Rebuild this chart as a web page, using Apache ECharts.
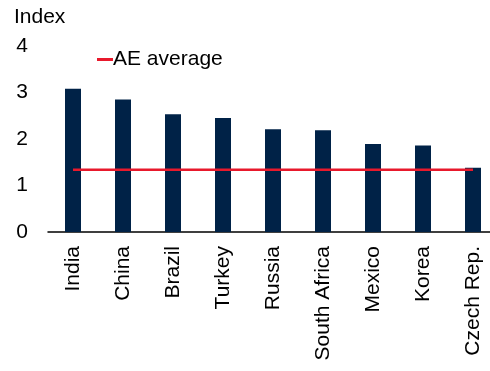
<!DOCTYPE html>
<html>
<head>
<meta charset="utf-8">
<script src="https://cdn.jsdelivr.net/npm/echarts@6/dist/echarts.min.js"></script>
<style>html,body{margin:0;padding:0;background:#fff}#c{width:490px;height:371px}</style>
</head>
<body>
<div id="c"></div>
<script>
var categories = ['India','China','Brazil','Turkey','Russia','South Africa','Mexico','Korea','Czech Rep.'];
var indexValues = [3.08, 2.85, 2.53, 2.45, 2.21, 2.19, 1.89, 1.86, 1.38];
var aeAverage = [1.34, 1.34, 1.34, 1.34, 1.34, 1.34, 1.34, 1.34, 1.34];
var yTicks = [0, 1, 2, 3, 4];

var font = 'Arial, "Liberation Sans", sans-serif';
var chart = echarts.init(document.getElementById('c'), null, {renderer: 'canvas'});
chart.setOption({
  animation: false,
  title: {text: 'Index', left: 9, top: 2, textStyle: {fontFamily: font, fontSize: 21, fontWeight: 'normal', color: '#000'}},
  legend: {
    data: [{name: 'AE average', icon: 'none'}],
    left: 87, top: 44, itemWidth: 0, itemHeight: 3, itemGap: 0,
    formatter: function (n) { return '{l|}{t|' + n + '}'; },
    textStyle: {
      fontFamily: font, fontSize: 21, color: '#000',
      rich: {
        l: {width: 16, height: 3, backgroundColor: '#E8192C', verticalAlign: 'middle'},
        t: {fontFamily: font, fontSize: 21, color: '#000', verticalAlign: 'middle'}
      }
    }
  },
  grid: {left: 48, top: 46, width: 450, height: 186, outerBoundsMode: 'none', containLabel: false},
  xAxis: {
    type: 'category', data: categories,
    axisLine: {lineStyle: {color: '#000', width: 1.5}},
    axisTick: {show: false},
    axisLabel: {rotate: 90, margin: 14, fontFamily: font, fontSize: 21, color: '#000'}
  },
  yAxis: {
    type: 'value', min: yTicks[0], max: yTicks[yTicks.length-1], interval: 1,
    axisLine: {show: false}, axisTick: {show: false}, splitLine: {show: false},
    axisLabel: {margin: 20, fontFamily: font, fontSize: 21, color: '#000'}
  },
  series: [
    {type: 'bar', name: 'Index', data: indexValues, barWidth: 16, itemStyle: {color: '#002247'}},
    {type: 'line', name: 'AE average', data: aeAverage, symbol: 'none', lineStyle: {color: '#E8192C', width: 2.5}, itemStyle: {color: '#E8192C'}, z: 3}
  ]
});
</script>
</body>
</html>
